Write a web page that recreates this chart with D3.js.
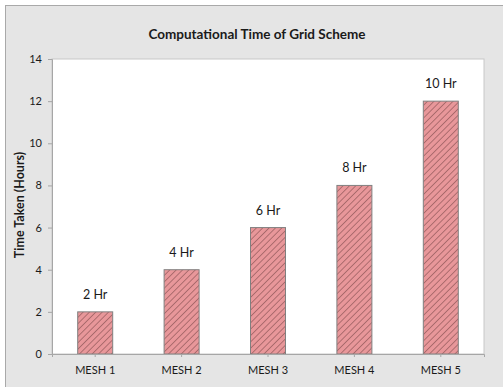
<!DOCTYPE html>
<html>
<head>
<meta charset="utf-8">
<script src="https://cdn.jsdelivr.net/npm/d3@7"></script>
<style>
  html, body { margin: 0; padding: 0; background: #ffffff; }
  svg text { font-family: Lato, "Open Sans", sans-serif; fill: #1a1a1a; }
</style>
</head>
<body>
<svg id="chart" width="503" height="387"></svg>
<script>
// Computation time per mesh
const categories = ["MESH 1", "MESH 2", "MESH 3", "MESH 4", "MESH 5"];
const hours = [2, 4, 6, 8, 12];
const hourLabels = ["2 Hr", "4 Hr", "6 Hr", "8 Hr", "10 Hr"];
const yTicks = [0, 2, 4, 6, 8, 10, 12, 14];

const svg = d3.select("#chart");
const W = 503, H = 387;
const plot = { left: 52, right: 484, top: 59, bottom: 354 };

// chart frame
svg.append("rect").attr("x", 0).attr("y", 0).attr("width", W).attr("height", H).attr("fill", "#ffffff");
svg.append("rect").attr("x", 5.5).attr("y", 5.5).attr("width", W).attr("height", H)
  .attr("fill", "#e5e5e5").attr("stroke", "#a9a9a9").attr("stroke-width", 1);

// hatch pattern for bars
const defs = svg.append("defs");
const pat = defs.append("pattern")
  .attr("id", "hatch").attr("patternUnits", "userSpaceOnUse")
  .attr("width", 4.5).attr("height", 4.5)
  .attr("patternTransform", "rotate(45)");
pat.append("rect").attr("width", 4.5).attr("height", 4.5).attr("fill", "#e8979a");
pat.append("line").attr("x1", 0).attr("y1", 0).attr("x2", 0).attr("y2", 4.5)
  .attr("stroke", "#7d4a4b").attr("stroke-width", 1.1);

// plot area
svg.append("rect")
  .attr("x", plot.left).attr("y", plot.top)
  .attr("width", plot.right - plot.left).attr("height", plot.bottom - plot.top)
  .attr("fill", "#ffffff").attr("stroke", "#c8c8c8").attr("stroke-width", 1);

const x = d3.scaleBand().domain(categories)
  .range([plot.left, plot.right]).paddingInner(0.595).paddingOuter(0.2975);
const y = d3.scaleLinear().domain([0, 14]).range([plot.bottom, plot.top]);

// bars
svg.append("g").selectAll("rect").data(categories).join("rect")
  .attr("x", d => x(d)).attr("width", x.bandwidth())
  .attr("y", (d, i) => y(hours[i])).attr("height", (d, i) => y(0) - y(hours[i]))
  .attr("fill", "url(#hatch)").attr("stroke", "#808080").attr("stroke-width", 1);

// bar labels
svg.append("g").selectAll("text").data(categories).join("text")
  .attr("x", d => x(d) + x.bandwidth() / 2)
  .attr("y", (d, i) => y(hours[i]) - 13)
  .attr("text-anchor", "middle").attr("font-size", 12.5)
  .text((d, i) => hourLabels[i]);

// y axis
const yAxis = svg.append("g").attr("transform", `translate(${plot.left},0)`)
  .call(d3.axisLeft(y).tickValues(yTicks).tickSize(4).tickPadding(6));
yAxis.select(".domain").attr("stroke", "#a6a6a6");
yAxis.selectAll(".tick line").attr("stroke", "#a6a6a6");
yAxis.selectAll(".tick text").attr("font-size", 11).attr("fill", "#1a1a1a")
  .style("font-family", "Lato, sans-serif");

// x axis
const xAxis = svg.append("g").attr("transform", `translate(0,${plot.bottom})`)
  .call(d3.axisBottom(x).tickSize(3).tickPadding(9));
xAxis.select(".domain").attr("stroke", "#a6a6a6");
xAxis.selectAll(".tick line").attr("stroke", "#a6a6a6");
xAxis.selectAll(".tick text").attr("font-size", 11).attr("fill", "#1a1a1a")
  .style("font-family", "Lato, sans-serif");

// title
svg.append("text").attr("x", 257).attr("y", 39)
  .attr("text-anchor", "middle").attr("font-size", 13.5).attr("font-weight", "bold")
  .text("Computational Time of Grid Scheme");

// y axis title
svg.append("text")
  .attr("transform", "translate(24,205) rotate(-90)")
  .attr("text-anchor", "middle").attr("font-size", 12.5).attr("font-weight", "bold")
  .text("Time Taken (Hours)");
</script>
</body>
</html>
